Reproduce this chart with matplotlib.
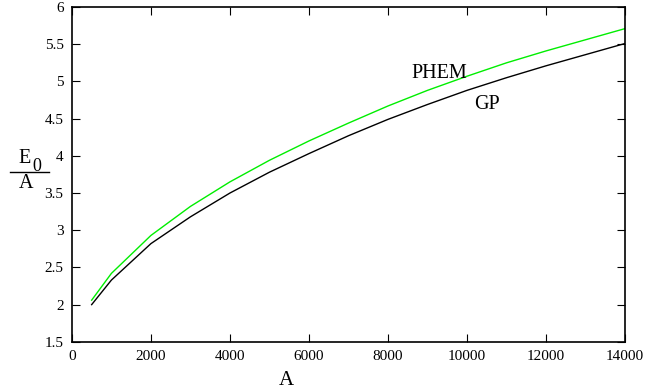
import matplotlib
matplotlib.use("Agg")
import matplotlib.pyplot as plt
from matplotlib.lines import Line2D

plt.rcParams['font.family'] = ['Liberation Serif', 'DejaVu Serif']

# data
mass = [500, 1000, 2000, 3000, 4000, 5000, 6000, 7000, 8000,
        9000, 10000, 11000, 12000, 13000, 14000]
gp = [2.00, 2.33, 2.82, 3.18, 3.50, 3.78, 4.03, 4.27, 4.49,
      4.69, 4.88, 5.05, 5.21, 5.36, 5.51]
phem = [2.06, 2.42, 2.93, 3.32, 3.65, 3.94, 4.20, 4.44, 4.67,
        4.88, 5.07, 5.25, 5.41, 5.56, 5.71]

xticks = [0, 2000, 4000, 6000, 8000, 10000, 12000, 14000]
yticks = [1.5, 2, 2.5, 3, 3.5, 4, 4.5, 5, 5.5, 6]

fig = plt.figure(figsize=(6.72, 3.92), dpi=100)
ax = fig.add_axes([0.107, 0.128, 0.823, 0.854])

ax.plot(mass, phem, color='#00ee00', lw=1.0)
ax.plot(mass, gp, color='black', lw=1.0)

ax.set_xlim(0, 14000)
ax.set_ylim(1.5, 6)
ax.set_xticks(xticks)
ax.set_yticks(yticks)
ax.set_yticklabels([f'{v:g}' for v in yticks])
ax.tick_params(direction='in', top=True, right=True, length=6,
               labelsize=11, pad=6)
for s in ax.spines.values():
    s.set_linewidth(1.2)

ax.text(8600, 5.05, 'PHEM', fontsize=14.5, ha='left', va='baseline')
ax.text(10170, 4.63, 'GP', fontsize=14.5, ha='left', va='baseline')

# x label sits left of centre in the original
ax.text(0.387, -0.13, 'A', fontsize=15, ha='center', va='baseline',
        transform=ax.transAxes)

# y label as a fraction E_0 / A
fig.text(18 / 672, 1 - 163 / 392, 'E', fontsize=14.5, ha='left', va='baseline')
fig.text(32 / 672, 1 - 171 / 392, '0', fontsize=13, ha='left', va='baseline')
fig.add_artist(Line2D([10 / 672, 49 / 672], [1 - 172 / 392, 1 - 172 / 392],
                      color='black', lw=1.0, transform=fig.transFigure))
fig.text(26 / 672, 1 - 188 / 392, 'A', fontsize=14.5, ha='center', va='baseline')

fig.savefig('out.png', dpi=100)
